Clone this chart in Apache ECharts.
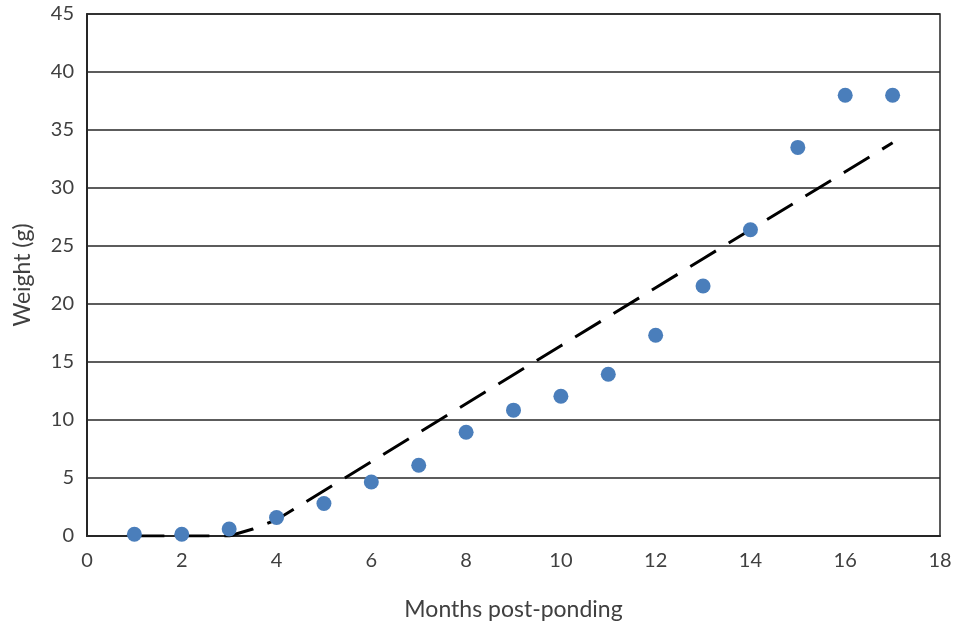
<!DOCTYPE html>
<html>
<head>
<meta charset="utf-8">
<script src="https://cdn.jsdelivr.net/npm/echarts@6/dist/echarts.min.js"></script>
<style>html,body{margin:0;padding:0;background:#fff;}#c{width:955px;height:628px;}</style>
</head>
<body>
<div id="c"></div>
<script>
// Observed weights (points)
const months = [1,2,3,4,5,6,7,8,9,10,11,12,13,14,15,16,17];
const weights = [0.15,0.15,0.6,1.6,2.8,4.65,6.1,8.95,10.85,12.05,13.95,17.3,21.55,26.4,33.5,38.0,38.0];
// Model curve (dashed line)
const modelX = [1,2,3,3.5,4,5,6,7,8,9,10,11,12,13,14,15,16,17];
const modelY = [0,0,0,0.6,1.4,3.9,6.4,8.9,11.4,13.9,16.4,18.9,21.4,23.9,26.4,28.9,31.4,33.9];
const xTitle = 'Months post-ponding';
const yTitle = 'Weight (g)';

const font = 'Lato, "Open Sans", sans-serif';
const chart = echarts.init(document.getElementById('c'), null, {renderer: 'canvas'});
chart.setOption({
  animation: false,
  backgroundColor: '#fff',
  grid: {left: 87, right: 15, top: 14, bottom: 92, show: true, borderColor: '#262626', borderWidth: 1.5},
  xAxis: {
    type: 'value', min: 0, max: 18, interval: 2,
    name: xTitle, nameLocation: 'middle', nameGap: 62,
    nameTextStyle: {fontFamily: font, fontSize: 23, color: '#404040'},
    axisLine: {show: true, lineStyle: {color: '#262626', width: 2}},
    axisTick: {show: false},
    splitLine: {show: false},
    axisLabel: {fontFamily: font, fontSize: 20, color: '#404040', margin: 15}
  },
  yAxis: {
    type: 'value', min: 0, max: 45, interval: 5,
    name: yTitle, nameLocation: 'middle', nameGap: 53,
    nameTextStyle: {fontFamily: font, fontSize: 23, color: '#404040'},
    axisLine: {show: true, lineStyle: {color: '#262626', width: 2}},
    axisTick: {show: false},
    splitLine: {show: true, lineStyle: {color: '#262626', width: 1.5}},
    axisLabel: {fontFamily: font, fontSize: 20, color: '#404040', margin: 13}
  },
  series: [
    {
      type: 'line',
      data: modelX.map((x, i) => [x, modelY[i]]),
      showSymbol: false,
      smooth: false,
      lineStyle: {color: '#000', width: 3, type: [30, 15]},
      z: 2
    },
    {
      type: 'scatter',
      data: months.map((x, i) => [x, weights[i]]),
      symbol: 'circle',
      symbolSize: 15,
      itemStyle: {color: '#4A7EBB', opacity: 1},
      z: 3
    }
  ]
});
</script>
</body>
</html>
